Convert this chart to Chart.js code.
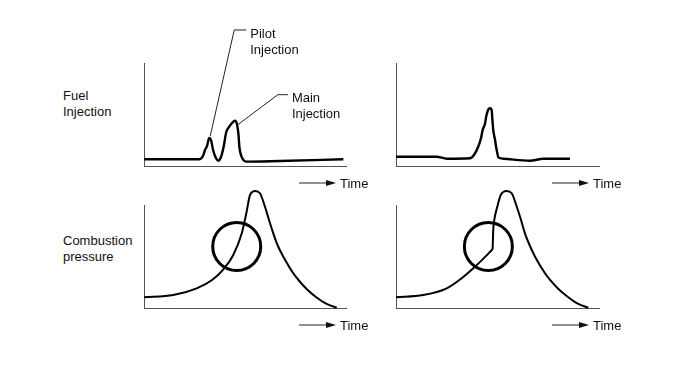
<!DOCTYPE html>
<html>
<head>
<meta charset="utf-8">
<script src="https://cdn.jsdelivr.net/npm/chart.js@4.4.1/dist/chart.umd.min.js"></script>
<style>
  body { margin: 0; background: #fff; }
  #wrap { position: relative; width: 690px; height: 369px; overflow: hidden; font-family: "Liberation Sans", Arial, sans-serif; }
  #wrap canvas { position: absolute; }
  .lbl { position: absolute; font-size: 13px; line-height: 16px; color: #111; }
</style>
</head>
<body>
<div id="wrap">
  <div class="lbl" style="left:63px; top:88px;">Fuel<br>Injection</div>
  <div class="lbl" style="left:63px; top:233px;">Combustion<br>pressure</div>
  <canvas id="injA" width="240" height="180" style="left:140px; top:20px;"></canvas>
  <canvas id="injB" width="240" height="180" style="left:390px; top:20px;"></canvas>
  <canvas id="presA" width="240" height="160" style="left:140px; top:180px;"></canvas>
  <canvas id="presB" width="240" height="160" style="left:390px; top:180px;"></canvas>
</div>
<script>
// fuel injection rate, pilot + main injection (left)
const injTimeA = [0, 27.2, 29.2, 30.2, 31.2, 32.3, 33.2, 34.2, 35.6, 36.8, 38.1, 39.6, 40.6, 42.1, 43.6, 45, 46, 46.8, 47.2, 48, 49.2, 50.8, 67.3, 98.7];
const injRateA = [6.5, 6.5, 9.7, 15.5, 19.4, 27.2, 25.2, 15.5, 7.8, 5.1, 8.7, 20.4, 32, 37.9, 41.7, 44, 40.8, 30, 18.7, 10.7, 5.8, 4.2, 4.9, 6.5];

// fuel injection rate, single injection (right)
const injTimeB = [0, 20, 25, 36.5, 38.4, 40.5, 41.9, 42.7, 43.8, 44.6, 45.5, 46.3, 47.1, 47.5, 47.9, 48.8, 49.3, 49.8, 50.4, 52.8, 66, 72.6, 85.7];
const injRateB = [9, 9, 7.1, 7.5, 10.7, 18.7, 27.2, 35, 40.8, 49.5, 55, 56, 54.4, 44.7, 35, 25.2, 18.7, 13.6, 8.4, 7.1, 5.1, 7.1, 7.1];

// combustion pressure (left)
const presTimeA = [0, 14.5, 26.1, 33.7, 39.3, 44.2, 48.4, 50.8, 52.5, 55, 57.4, 59.9, 61.9, 64, 66.3, 69, 73.9, 77.2, 80.5, 85.1, 90.4, 95.4];
const presValA = [10.4, 12.6, 19.1, 27.2, 37.6, 51.5, 72.5, 93.5, 109.7, 113.6, 111.4, 98.3, 85.4, 72.5, 60.2, 49.8, 33.7, 25.5, 18.4, 10.7, 3.9, 0.3];

// combustion pressure (right), sudden rise at ignition
const presTimeB = [0, 13.4, 25, 32.5, 39.8, 47.6, 47.9, 48.4, 49.9, 51.6, 54.5, 57, 59.5, 61.6, 63.5, 66, 68.5, 73.4, 75.9, 80, 84.7, 89.8, 94.7];
const presValB = [10.4, 12.6, 19.1, 29.1, 41.7, 57, 75.7, 85.4, 98.3, 109.7, 113.6, 111.4, 98.3, 85.4, 72.5, 60.2, 49.8, 33.7, 27.2, 18.4, 10.7, 3.9, 0.3];
const ignitionB = 5;

// highlighted region (circle centre) in each pressure plot
const ringA = [{x: 45.9, y: 59.7}];
const ringB = [{x: 45.5, y: 59.7}];

const axisLabel = 'Time';
const pilotText = ['Pilot', 'Injection'];
const mainText = ['Main', 'Injection'];

const zip = (xs, ys) => xs.map((x, i) => ({x: x, y: ys[i]}));
const peakIndex = (ys, from, to) => {
  let best = from;
  for (let i = from; i <= to; i++) if (ys[i] > ys[best]) best = i;
  return best;
};

// arrow + "Time" under the x axis, and leader-line callouts
const diagramPlugin = {
  id: 'diagram',
  afterDraw(chart, args, opts) {
    const ctx = chart.ctx;
    const a = chart.chartArea;
    const y = a.bottom + 17;
    ctx.save();
    ctx.strokeStyle = '#222';
    ctx.fillStyle = '#111';
    ctx.lineWidth = 1;
    ctx.beginPath();
    ctx.moveTo(a.right - 47, y);
    ctx.lineTo(a.right - 18, y);
    ctx.stroke();
    ctx.beginPath();
    ctx.moveTo(a.right - 20, y - 3);
    ctx.lineTo(a.right - 10, y);
    ctx.lineTo(a.right - 20, y + 3);
    ctx.closePath();
    ctx.fill();
    ctx.font = '13px "Liberation Sans", Arial, sans-serif';
    ctx.textBaseline = 'middle';
    ctx.fillText(axisLabel, a.right - 6, y + 1);

    (opts.callouts || []).forEach(c => {
      const pt = chart.getDatasetMeta(0).data[c.index];
      const sx = pt.x + c.start[0], sy = pt.y + c.start[1];
      const ex = pt.x + c.elbow[0], ey = pt.y + c.elbow[1];
      ctx.beginPath();
      ctx.moveTo(sx, sy);
      ctx.lineTo(ex, ey);
      ctx.lineTo(ex + c.arm, ey);
      ctx.stroke();
      c.text.forEach((t, i) => ctx.fillText(t, ex + c.arm + 4, ey + 4 + i * 16));
    });
    ctx.restore();
  }
};

function axes(ymax) {
  const common = {
    type: 'linear',
    ticks: {display: false},
    grid: {display: false, drawTicks: false},
    border: {display: true, color: '#555', width: 1}
  };
  return {
    x: Object.assign({}, common, {min: 0, max: 100}),
    y: Object.assign({}, common, {min: 0, max: ymax})
  };
}

function curve(points, width) {
  return {
    data: points,
    borderColor: '#000',
    borderWidth: width,
    pointRadius: 0,
    fill: false,
    cubicInterpolationMode: 'monotone',
    clip: false
  };
}

function ring(points) {
  return {
    data: points,
    showLine: false,
    pointStyle: 'circle',
    pointRadius: 24,
    pointBorderWidth: 3,
    pointBorderColor: '#000',
    pointBackgroundColor: 'rgba(0,0,0,0)',
    clip: false
  };
}

function draw(id, datasets, padding, callouts) {
  new Chart(document.getElementById(id), {
    type: 'line',
    data: {datasets: datasets},
    plugins: [diagramPlugin],
    options: {
      responsive: false,
      animation: false,
      events: [],
      layout: {padding: padding, autoPadding: false},
      scales: axes(100),
      plugins: {
        legend: {display: false},
        tooltip: {enabled: false},
        diagram: {callouts: callouts}
      }
    }
  });
}

const pilotPeak = peakIndex(injRateA, 0, 8);
const mainPeak = peakIndex(injRateA, 9, 20);
const presPtsB = zip(presTimeB, presValB);

draw('injA', [curve(zip(injTimeA, injRateA), 2.4)],
  {left: 4, right: 34, top: 43, bottom: 34},
  [
    {index: pilotPeak, start: [1, -2], elbow: [25, -108], arm: 12, text: pilotText},
    {index: mainPeak, start: [3, 4], elbow: [43, -26], arm: 10, text: mainText}
  ]);
draw('injB', [curve(zip(injTimeB, injRateB), 2.4)],
  {left: 6, right: 31, top: 43, bottom: 34}, []);
draw('presA', [curve(zip(presTimeA, presValA), 2), ring(ringA)],
  {left: 4, right: 34, top: 25, bottom: 32}, []);
draw('presB', [
    curve(presPtsB.slice(0, ignitionB + 1), 2),
    curve(presPtsB.slice(ignitionB), 2),
    ring(ringB)
  ],
  {left: 6, right: 31, top: 25, bottom: 32}, []);
</script>
</body>
</html>
